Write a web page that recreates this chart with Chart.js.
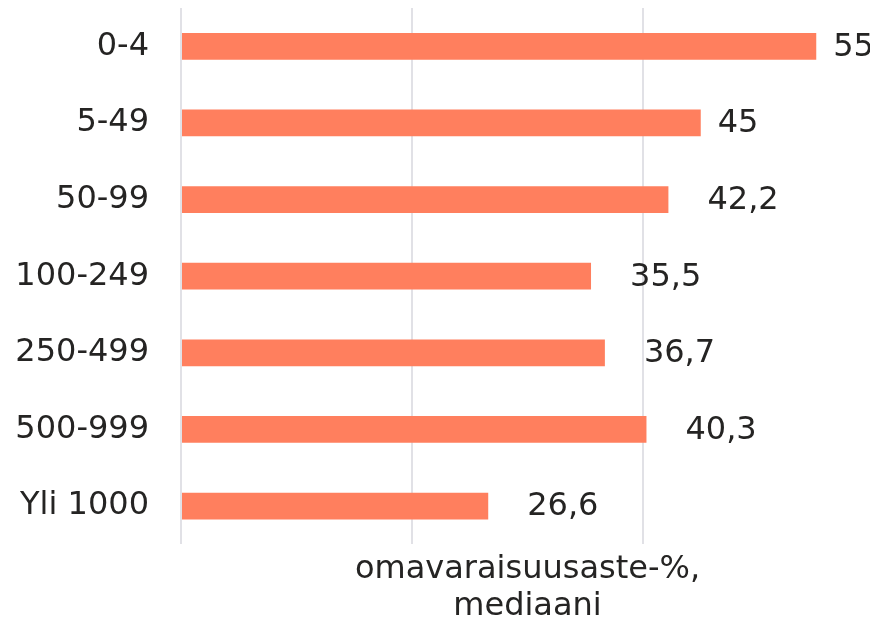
<!DOCTYPE html>
<html>
<head>
<meta charset="utf-8">
<script src="https://cdn.jsdelivr.net/npm/chart.js@4"></script>
<style>
  html, body { margin: 0; padding: 0; background: #ffffff; overflow: hidden; }
  #wrap { width: 874px; height: 622px; position: relative; }
</style>
</head>
<body>
<div id="wrap"><canvas id="c"></canvas></div>
<script>
const categories = ['0-4', '5-49', '50-99', '100-249', '250-499', '500-999', 'Yli 1000'];
const values = [55, 45, 42.2, 35.5, 36.7, 40.3, 26.6];
const axisTitle = ['omavaraisuusaste-%,', 'mediaani'];

const FONT = "'DejaVu Sans', Verdana, sans-serif";
const TEXT = '#252423';

const valueLabels = {
  id: 'valueLabels',
  afterDatasetsDraw(chart) {
    const ctx = chart.ctx;
    const meta = chart.getDatasetMeta(0);
    ctx.save();
    ctx.font = '32px ' + FONT;
    ctx.fillStyle = TEXT;
    ctx.textAlign = 'left';
    ctx.textBaseline = 'middle';
    meta.data.forEach((bar, i) => {
      const v = values[i];
      const txt = String(v).replace('.', ',');
      const off = Number.isInteger(v) ? 17 : 39;
      ctx.fillText(txt, bar.x + off, bar.y + 1);
    });
    ctx.restore();
  }
};

new Chart(document.getElementById('c'), {
  type: 'bar',
  data: {
    labels: categories,
    datasets: [{
      data: values,
      backgroundColor: '#FF7F5E',
      borderWidth: 0,
      categoryPercentage: 1.0,
      barPercentage: 0.35
    }]
  },
  options: {
    indexAxis: 'y',
    responsive: true,
    maintainAspectRatio: false,
    animation: false,
    layout: { padding: { top: 8, left: 15, right: 0, bottom: 0 } },
    plugins: { legend: { display: false }, tooltip: { enabled: false } },
    scales: {
      x: {
        min: 0, max: 60,
        ticks: { display: false, stepSize: 20 },
        grid: { color: '#E1E1E6', lineWidth: 2, drawTicks: false },
        border: { display: false },
        title: {
          display: true,
          text: axisTitle,
          color: TEXT,
          font: { family: FONT, size: 32, lineHeight: 1.15 },
          padding: { top: 7, bottom: -3 }
        }
      },
      y: {
        grid: { display: false, drawTicks: false },
        border: { display: false },
        ticks: { color: TEXT, padding: 32, font: { family: FONT, size: 32 } },
        afterFit(scale) {
          scale.width = 166;
          scale.paddingTop = 0;
          scale.paddingBottom = 0;
        }
      }
    }
  },
  plugins: [valueLabels]
});
</script>
</body>
</html>
